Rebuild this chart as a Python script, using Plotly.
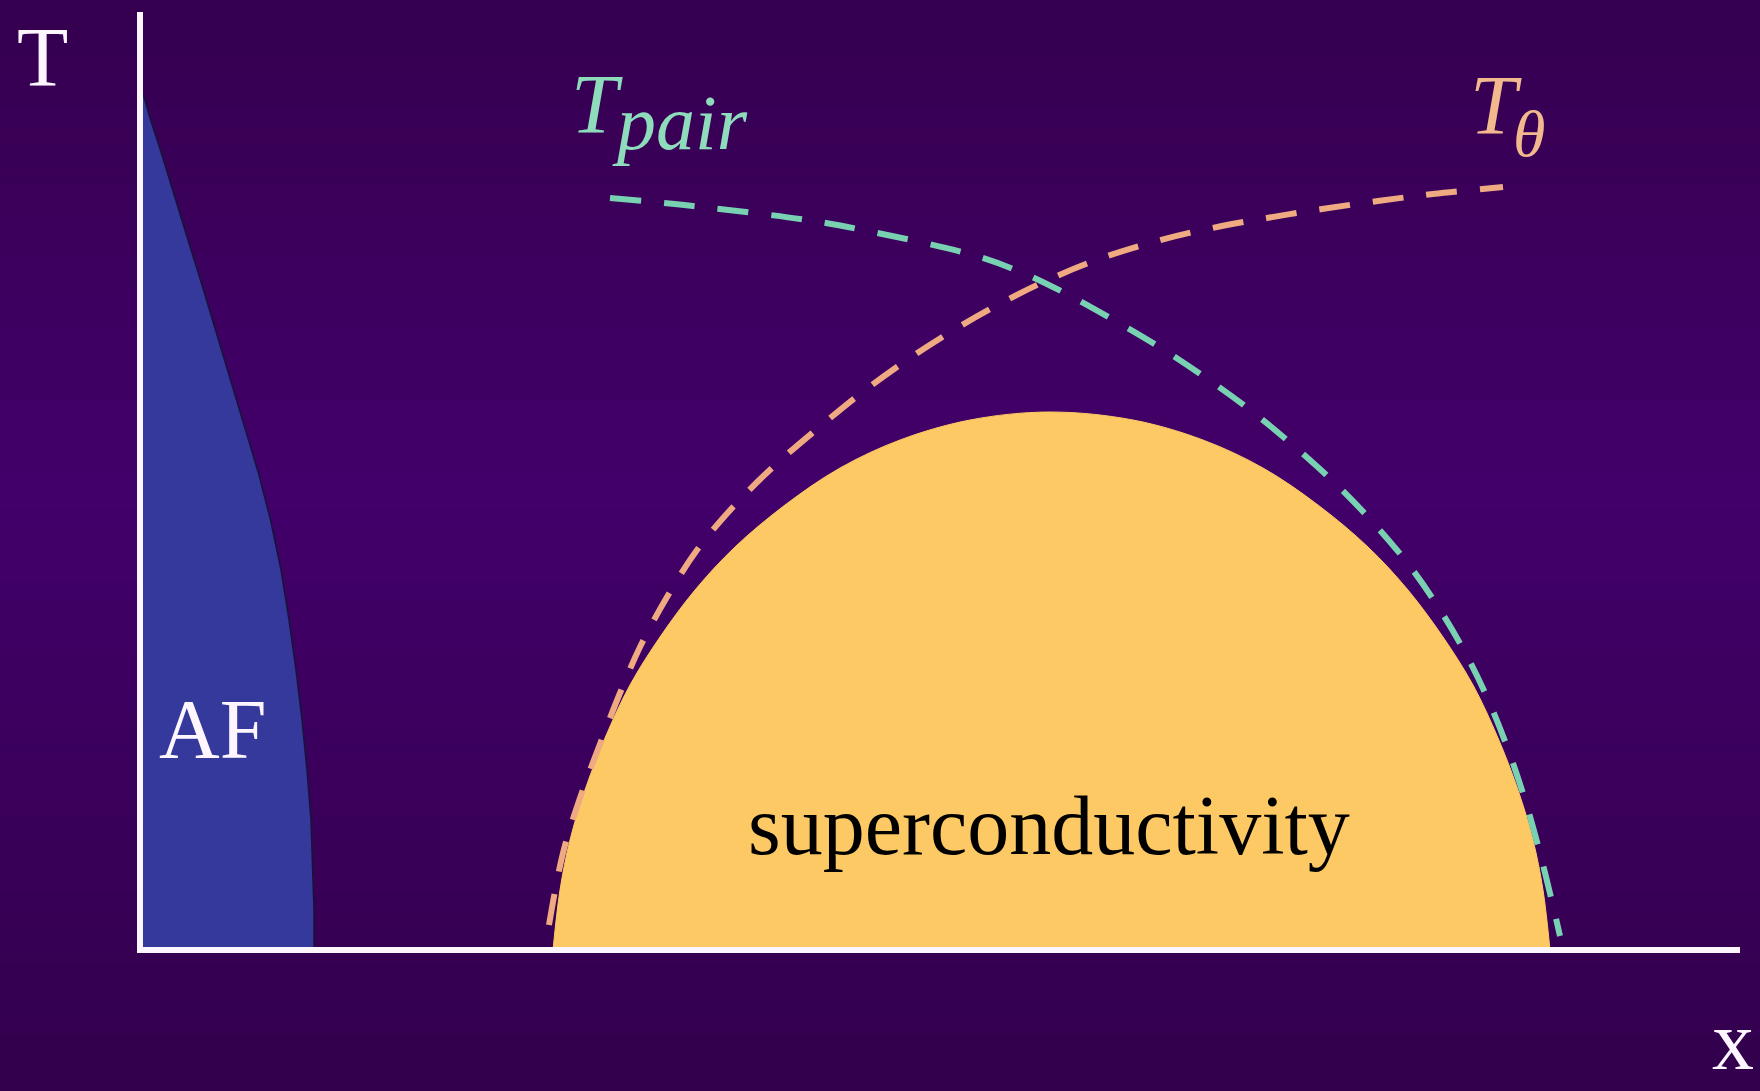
import plotly.graph_objects as go

# ---------------- data (schematic units: doping x, temperature T) ----------------
af_x = [0.00, 0.00, 0.02, 0.10, 0.21, 0.34, 0.48, 0.62, 0.76, 0.91, 1.05, 1.19, 1.31, 1.41,
        1.49, 1.56, 1.62, 1.67, 1.71, 1.73, 1.74, 1.74]
af_T = [0.00, 8.60, 8.60, 8.32, 7.98, 7.55, 7.10, 6.65, 6.18, 5.70, 5.22, 4.75, 4.28, 3.80,
        3.30, 2.80, 2.30, 1.80, 1.30, 0.80, 0.40, 0.00]

sc_x = [4.13, 4.20, 4.30, 4.45, 4.65, 4.90, 5.20, 5.55, 5.95, 6.45, 7.00, 7.60, 8.30, 9.10,
        9.93, 10.63, 11.23, 11.78, 12.28, 12.68, 13.03, 13.33, 13.58, 13.78, 13.93, 14.03, 14.10]
sc_T = [0.00, 0.60, 1.10, 1.60, 2.12, 2.65, 3.13, 3.60, 4.03, 4.45, 4.82, 5.10, 5.30, 5.38,
        5.30, 5.10, 4.82, 4.45, 4.03, 3.60, 3.13, 2.65, 2.12, 1.60, 1.10, 0.60, 0.00]

pair_x = [4.70, 5.53, 6.67, 7.23, 8.33, 8.83, 9.21, 9.72, 10.21, 10.69, 11.14, 11.55,
          12.00, 12.38, 12.72, 13.02, 13.28, 13.50, 13.69, 13.86, 14.01, 14.14, 14.20]
pair_T = [7.52, 7.44, 7.30, 7.20, 6.95, 6.77, 6.59, 6.31, 6.02, 5.70, 5.37, 5.03,
          4.62, 4.22, 3.81, 3.37, 2.92, 2.46, 1.98, 1.47, 0.93, 0.40, 0.14]

theta_x = [4.09, 4.23, 4.40, 4.60, 4.80, 5.00, 5.27, 5.57, 5.93, 6.33, 6.77, 7.20, 7.67,
           8.17, 8.67, 9.10, 9.62, 10.17, 10.72, 11.27, 11.82, 12.38, 12.93, 13.63]
theta_T = [0.25, 0.97, 1.52, 2.06, 2.57, 3.03, 3.53, 4.00, 4.43, 4.83, 5.21, 5.56, 5.90,
           6.22, 6.50, 6.71, 6.92, 7.09, 7.22, 7.32, 7.41, 7.49, 7.56, 7.63]

axis_x_max = 16.0
axis_T_max = 9.38

# ---------------- styles ----------------
BG_TOP = (53, 0, 79)
BG_MID = (66, 0, 106)
BG_BOT = (50, 0, 76)
AF_FILL = "#34399b"
SC_FILL = "#fdc964"
PAIR_COL = "#78d2b2"
THETA_COL = "#f0aa82"
SERIF = "Liberation Serif, Times New Roman, serif"

fig = go.Figure()

fig.add_trace(go.Scatter(x=af_x, y=af_T, mode="lines", fill="toself",
                         fillcolor=AF_FILL, line=dict(color="#15153a", width=1.5),
                         hoverinfo="skip", showlegend=False))
fig.add_trace(go.Scatter(x=sc_x, y=sc_T, mode="lines", fill="toself",
                         fillcolor=SC_FILL, line=dict(color=SC_FILL, width=1, shape="spline"),
                         hoverinfo="skip", showlegend=False))
fig.add_trace(go.Scatter(x=theta_x, y=theta_T, mode="lines",
                         line=dict(color=THETA_COL, width=6, dash="31px,23px", shape="spline"),
                         hoverinfo="skip", showlegend=False))
fig.add_trace(go.Scatter(x=pair_x, y=pair_T, mode="lines",
                         line=dict(color=PAIR_COL, width=6, dash="31px,23px", shape="spline"),
                         hoverinfo="skip", showlegend=False))

# background vertical gradient
def mix(a, b, t):
    return tuple(round(a[i] + (b[i] - a[i]) * t) for i in range(3))

shapes = []
n = 60
for i in range(n):
    f = (i + 0.5) / n  # from top
    if f < 0.45:
        c = mix(BG_TOP, BG_MID, f / 0.45)
    else:
        c = mix(BG_MID, BG_BOT, (f - 0.45) / 0.55)
    shapes.append(dict(type="rect", xref="paper", yref="paper", x0=0, x1=1,
                       y0=1 - (i + 1) / n - 0.002, y1=1 - i / n,
                       fillcolor="rgb(%d,%d,%d)" % c, line=dict(width=0), layer="below"))

# axes lines
shapes.append(dict(type="line", xref="x", yref="y", x0=0, x1=0, y0=-0.03, y1=axis_T_max,
                   line=dict(color="#fdf6ff", width=6), layer="above"))
shapes.append(dict(type="line", xref="x", yref="y", x0=-0.03, x1=axis_x_max, y0=0, y1=0,
                   line=dict(color="#fdf6ff", width=6), layer="above"))

annotations = [
    dict(x=-0.98, y=8.93, text="T", font=dict(family=SERIF, size=84, color="#fdf6ff")),
    dict(x=0.725, y=2.21, text="AF", font=dict(family=SERIF, size=84, color="#fdf6ff")),
    dict(x=9.085, y=1.25, text="superconductivity", font=dict(family=SERIF, size=84, color="#000000")),
    dict(x=15.93, y=-0.90, text="x", font=dict(family=SERIF, size=84, color="#fdf6ff")),
    dict(x=4.57, y=8.46, text="<i>T</i>", font=dict(family=SERIF, size=84, color="#8edcbc")),
    dict(x=5.40, y=8.28, text="<i>pair</i>", font=dict(family=SERIF, size=78, color="#8edcbc")),
    dict(x=13.56, y=8.445, text="<i>T</i>", font=dict(family=SERIF, size=84, color="#f2b88e")),
    dict(x=13.89, y=8.17, text="<i>θ</i>", font=dict(family=SERIF, size=66, color="#f2b88e")),
]
for a in annotations:
    a.update(xref="x", yref="y", showarrow=False, xanchor="center", yanchor="middle")

fig.update_layout(
    width=1760, height=1091, autosize=False,
    margin=dict(l=0, r=0, t=0, b=0, pad=0),
    paper_bgcolor="rgb(%d,%d,%d)" % BG_MID,
    plot_bgcolor="rgba(0,0,0,0)",
    shapes=shapes, annotations=annotations,
    xaxis=dict(range=[-1.40, 16.20], visible=False, fixedrange=True),
    yaxis=dict(range=[-1.41, 9.50], visible=False, fixedrange=True),
    showlegend=False,
)

fig.write_html("out.html", config={"displayModeBar": False},
               post_script="document.body.style.margin='0';document.body.style.overflow='hidden';")
